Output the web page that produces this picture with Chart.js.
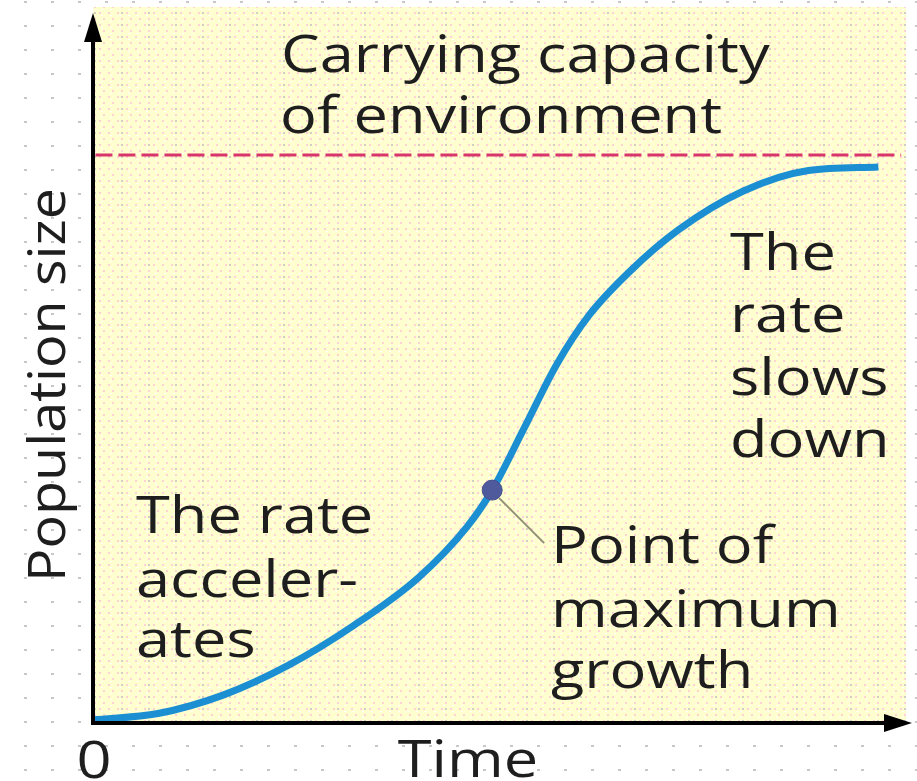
<!DOCTYPE html>
<html>
<head>
<meta charset="utf-8">
<title>Logistic growth</title>
<script src="https://cdn.jsdelivr.net/npm/chart.js@4/dist/chart.umd.min.js"></script>
<style>
  html, body { margin: 0; padding: 0; overflow: hidden; }
  body {
    width: 917px; height: 781px;
    background-color: #fff;
    background-image: radial-gradient(#c8c8c8 1.3px, transparent 1.6px);
    background-size: 27px 24px;
    background-position: 12px -10px;
  }
  #wrap { position: relative; width: 917px; height: 781px; }
</style>
</head>
<body>
<div id="wrap"><canvas id="chart"></canvas></div>
<script>
// --- Datos (tiempo 0-100, población 0-100) ---
const timeValues = [0, 8, 16, 24, 32, 40, 46, 49.1, 53, 57, 61, 66, 72, 80, 88, 96.6];
const populationValues = [0.3, 1.2, 3.8, 8.0, 13.6, 20.4, 27.6, 32.8, 41.5, 50.5, 57.5, 63.7, 69.6, 75.1, 78.0, 78.5];
const carryingCapacity = 80.2;
const capacityRange = [0.3, 99.4];
const maxGrowthPoint = [49.1, 32.8];

const axisTitleX = 'Time';
const axisTitleY = 'Population size';
const originLabel = '0';

const FONT = '"Open Sans", "Noto Sans", sans-serif';
const TEXT_COLOR = '#1e1e1e';
const STRETCH = 1.18; // la tipografía original es más ancha

// Patrón punteado del fondo amarillo
function makePattern(ctx) {
    const tile = document.createElement('canvas');
    tile.width = 27; tile.height = 24;
    const t = tile.getContext('2d');
    t.fillStyle = '#fffecf';
    t.fillRect(0, 0, 27, 24);
    t.fillStyle = '#ffd3d6';
    for (let y = 0; y < 24; y += 6) {
        const off = (y / 6) % 2 ? 4 : 0;
        for (let x = off; x < 27; x += 9) t.fillRect(x, y, 2, 2);
    }
    t.fillStyle = '#ffffff';
    for (let y = 3; y < 24; y += 6) {
        for (let x = 2; x < 27; x += 9) t.fillRect(x, y, 2, 1);
    }
    t.fillStyle = '#cfcfc4';
    t.fillRect(13, 0, 2, 2);
    t.fillRect(13, 12, 2, 2);
    return ctx.createPattern(tile, 'repeat');
}

function stretchedText(ctx, txt, x, y, sx) {
    ctx.save();
    ctx.translate(x, y);
    ctx.scale(sx, 1);
    ctx.fillText(txt, 0, 0);
    ctx.restore();
}

// Fondo, ejes con flechas y textos
const decorPlugin = {
    id: 'decor',
    beforeDraw(chart) {
        const { ctx, chartArea: a } = chart;
        ctx.save();
        ctx.fillStyle = makePattern(ctx);
        ctx.fillRect(a.left, a.top - 8, a.right - a.left, a.bottom - a.top + 8);
        ctx.restore();
    },
    afterDatasetsDraw(chart) {
        const { ctx, chartArea: a, scales } = chart;
        ctx.save();

        // Línea guía del punto de máximo crecimiento
        const px = scales.x.getPixelForValue(maxGrowthPoint[0]);
        const py = scales.y.getPixelForValue(maxGrowthPoint[1]);
        ctx.strokeStyle = '#8f8f72';
        ctx.lineWidth = 2;
        ctx.beginPath();
        ctx.moveTo(px + 7, py + 8);
        ctx.lineTo(px + 52, py + 53);
        ctx.stroke();

        // Ejes
        ctx.strokeStyle = '#000';
        ctx.fillStyle = '#000';
        ctx.lineWidth = 4;
        ctx.beginPath();
        ctx.moveTo(a.left, a.bottom + 1);
        ctx.lineTo(a.left, a.top + 20);
        ctx.moveTo(a.left - 2, a.bottom + 1);
        ctx.lineTo(a.right - 14, a.bottom + 1);
        ctx.stroke();

        // Flecha vertical
        ctx.beginPath();
        ctx.moveTo(a.left, a.top - 2);
        ctx.lineTo(a.left - 9, a.top + 27);
        ctx.lineTo(a.left + 9, a.top + 27);
        ctx.closePath();
        ctx.fill();
        // Flecha horizontal
        ctx.beginPath();
        ctx.moveTo(a.right + 6, a.bottom + 1);
        ctx.lineTo(a.right - 22, a.bottom - 8);
        ctx.lineTo(a.right - 22, a.bottom + 10);
        ctx.closePath();
        ctx.fill();

        // Textos
        ctx.fillStyle = TEXT_COLOR;
        ctx.font = '52px ' + FONT;
        ctx.textBaseline = 'alphabetic';
        ctx.textAlign = 'left';
        const lines = [
            ['Carrying capacity', 281, 72],
            ['of environment', 280, 133],
            ['The rate', 136, 533],
            ['acceler-', 136, 597],
            ['ates', 136, 657],
            ['Point of', 551, 563],
            ['maximum', 551, 627],
            ['growth', 551, 688],
            ['The', 730, 270],
            ['rate', 730, 332],
            ['slows', 730, 395],
            ['down', 730, 457]
        ];
        lines.forEach(([txt, x, y]) => stretchedText(ctx, txt, x, y, STRETCH));

        // Títulos de los ejes
        ctx.textAlign = 'center';
        stretchedText(ctx, axisTitleX, 468, 777, STRETCH);
        stretchedText(ctx, originLabel, 94, 778, STRETCH);
        ctx.translate(65, 385);
        ctx.rotate(-Math.PI / 2);
        stretchedText(ctx, axisTitleY, 0, 0, 1.07);
        ctx.restore();
    }
};

const ctxChart = document.getElementById('chart');

new Chart(ctxChart, {
    type: 'line',
    data: {
        datasets: [
            {
                label: 'Max growth',
                data: [{ x: maxGrowthPoint[0], y: maxGrowthPoint[1] }],
                showLine: false,
                pointRadius: 10,
                pointBackgroundColor: '#4f5a9c',
                pointBorderColor: '#46508f',
                pointBorderWidth: 1,
                order: 0
            },
            {
                label: 'Population',
                data: timeValues.map((t, i) => ({ x: t, y: populationValues[i] })),
                borderColor: '#1b8fd2',
                borderWidth: 7,
                pointRadius: 0,
                cubicInterpolationMode: 'monotone',
                borderCapStyle: 'butt',
                order: 1
            },
            {
                label: 'Carrying capacity',
                data: capacityRange.map(t => ({ x: t, y: carryingCapacity })),
                borderColor: '#d8356a',
                borderWidth: 3,
                borderDash: [17, 6],
                pointRadius: 0,
                order: 2
            }
        ]
    },
    options: {
        responsive: true,
        maintainAspectRatio: false,
        animation: false,
        layout: { padding: { left: 93, right: 9, top: 15, bottom: 59 } },
        scales: {
            x: { type: 'linear', min: 0, max: 100, display: false },
            y: { type: 'linear', min: 0, max: 100, display: false }
        },
        plugins: {
            legend: { display: false },
            tooltip: { enabled: false },
            title: { display: false }
        }
    },
    plugins: [decorPlugin]
});
</script>
</body>
</html>
